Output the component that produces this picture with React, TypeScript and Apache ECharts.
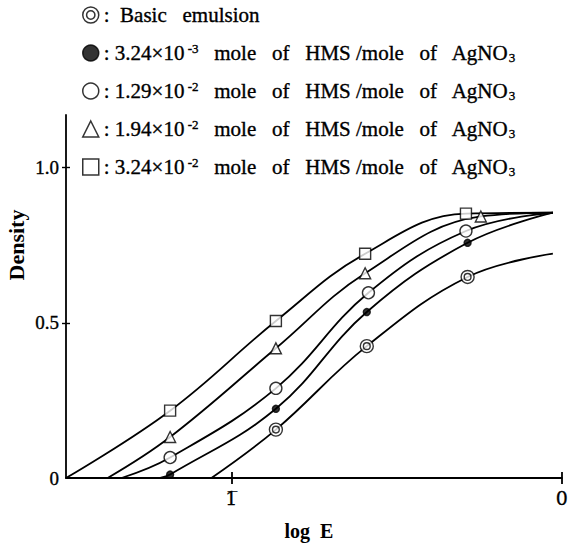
import { useEffect, useRef } from 'react';
import * as echarts from 'echarts';

// Axis ranges and ticks (log E on x, Density on y)
const X_MIN = -1.5;
const X_MAX = 0;
const Y_MIN = 0;
const Y_MAX = 1.17;
const X_TICKS = [-1, 0];
const X_TICK_LABELS = ['1\u0305', '0'];
const Y_TICKS = [0, 0.5, 1.0];
const Y_TICK_LABELS = ['0', '0.5', '1.0'];

// Series: basic emulsion plus four HMS additions (mole of HMS / mole of AgNO3)
const SERIES_NAMES = ['Basic emulsion', '3.24e-3', '1.29e-2', '1.94e-2', '3.24e-2'];
const MANTISSA = ['', '3.24', '1.29', '1.94', '3.24'];
const EXPONENT = ['', '-3', '-2', '-2', '-2'];

// Measured points (log E, density)
const basicLogE = [-0.865, -0.59, -0.285];
const basicDensity = [0.156, 0.425, 0.648];
const hmsALogE = [-1.185, -0.865, -0.59, -0.285];
const hmsADensity = [0.011, 0.223, 0.535, 0.758];
const hmsBLogE = [-1.185, -0.865, -0.585, -0.29];
const hmsBDensity = [0.066, 0.289, 0.597, 0.796];
const hmsCLogE = [-1.185, -0.865, -0.595, -0.245];
const hmsCDensity = [0.132, 0.418, 0.66, 0.843];
const hmsDLogE = [-1.185, -0.865, -0.595, -0.29];
const hmsDDensity = [0.217, 0.506, 0.723, 0.852];

// Where each characteristic curve leaves the axis and where it ends
const CURVE_START_LOGE = [-1.06, -1.215, -1.332, -1.374, -1.5];
const CURVE_END_LOGE = -0.027;
const CURVE_END_DENSITY = [0.723, 0.855, 0.855, 0.855, 0.855];

const LOGE = [basicLogE, hmsALogE, hmsBLogE, hmsCLogE, hmsDLogE];
const DENSITY = [basicDensity, hmsADensity, hmsBDensity, hmsCDensity, hmsDDensity];

const DOUBLE_CIRCLE =
  'path://M10 0A10 10 0 1 1 -10 0A10 10 0 1 1 10 0ZM5.2 0A5.2 5.2 0 1 1 -5.2 0A5.2 5.2 0 1 1 5.2 0Z';
const SYMBOLS = [DOUBLE_CIRCLE, 'circle', 'circle', 'triangle', 'rect'];
const SYMBOL_SIZES = [13, 7, 12, 11, 11];
const FILLS = ['#fff', '#000', '#fff', '#fff', '#fff'];

const FONT = "'Liberation Serif', 'DejaVu Serif', serif";
const INK = { textBorderColor: '#000', textBorderWidth: 0.35 };

export default function App() {
  const ref = useRef<HTMLDivElement>(null);

  useEffect(() => {
    if (!ref.current) return;
    const chart = echarts.init(ref.current, undefined, { renderer: 'svg' });

    const curveSeries = SERIES_NAMES.map((name, i) => ({
      name: name + ' curve',
      type: 'line',
      smooth: 0.4,
      showSymbol: false,
      symbol: 'none',
      silent: true,
      z: 2,
      lineStyle: { color: '#000', width: 1.8 },
      data: [
        [CURVE_START_LOGE[i], 0],
        ...LOGE[i].map((x, j) => [x, DENSITY[i][j]]),
        [CURVE_END_LOGE, CURVE_END_DENSITY[i]],
      ],
    }));

    const markerSeries = SERIES_NAMES.map((name, i) => ({
      name,
      type: 'scatter',
      symbol: SYMBOLS[i],
      symbolSize: SYMBOL_SIZES[i],
      z: 5,
      itemStyle: { color: FILLS[i], borderColor: '#000', borderWidth: 1.4 },
      data: LOGE[i].map((x, j) => [x, DENSITY[i][j]]),
    }));

    const legendText = (name: string) => {
      const i = SERIES_NAMES.indexOf(name);
      if (i === 0) return ':  Basic   emulsion';
      return `: ${MANTISSA[i]}×10{sup| ${EXPONENT[i]}}   mole   of   HMS /mole   of   AgNO{sub|3}`;
    };

    chart.setOption({
      animation: false,
      backgroundColor: '#fff',
      textStyle: { fontFamily: FONT, color: '#000' },
      grid: { left: 66, right: 4, top: 115, bottom: 59, containLabel: false },
      legend: {
        orient: 'vertical',
        left: 77,
        top: -2,
        itemGap: 14,
        itemWidth: 16,
        itemHeight: 16,
        selectedMode: false,
        data: SERIES_NAMES.map((name, i) => ({
          name,
          icon: SYMBOLS[i],
          itemStyle: { color: FILLS[i], borderColor: '#000', borderWidth: 1.5 },
        })),
        formatter: legendText,
        textStyle: {
          fontFamily: FONT,
          fontSize: 21,
          color: '#000',
          lineHeight: 24,
          ...INK,
          rich: {
            sup: { fontFamily: FONT, fontSize: 13, padding: [0, 0, 10, 0], ...INK },
            sub: { fontFamily: FONT, fontSize: 13, padding: [8, 0, 0, 0], ...INK },
          },
        },
      },
      xAxis: [
        {
          type: 'value',
          min: X_MIN,
          max: X_MAX,
          interval: 0.5,
          axisLine: { onZero: false, lineStyle: { color: '#000', width: 1.8 } },
          axisTick: {
            show: true,
            length: 6,
            customValues: X_TICKS,
            lineStyle: { color: '#000', width: 1.8 },
          },
          axisLabel: {
            customValues: X_TICKS,
            formatter: (v: number) => {
              const k = X_TICKS.findIndex((t) => Math.abs(t - v) < 1e-9);
              return k >= 0 ? X_TICK_LABELS[k] : '';
            },
            fontFamily: "'DejaVu Serif', serif",
            fontSize: 19,
            color: '#000',
            margin: 10,
            textBorderColor: '#000',
            textBorderWidth: 0.3,
          },
          splitLine: { show: false },
          name: 'log  E',
          nameLocation: 'middle',
          nameGap: 43,
          nameTextStyle: {
            fontFamily: FONT,
            fontSize: 20,
            fontWeight: 'bold',
            color: '#000',
            padding: [0, 10, 0, 0],
          },
        },
        {
          type: 'value',
          min: X_MIN,
          max: X_MAX,
          position: 'bottom',
          axisLine: { show: false, onZero: false },
          axisTick: {
            show: true,
            inside: true,
            length: 6,
            customValues: X_TICKS,
            lineStyle: { color: '#000', width: 1.8 },
          },
          axisLabel: { show: false },
          splitLine: { show: false },
        },
      ],
      yAxis: [
        {
          type: 'value',
          min: Y_MIN,
          max: Y_MAX,
          interval: 0.5,
          axisLine: { onZero: false, lineStyle: { color: '#000', width: 1.8 } },
          axisTick: {
            show: true,
            length: 4,
            customValues: Y_TICKS.slice(1),
            lineStyle: { color: '#000', width: 1.4 },
          },
          axisLabel: {
            customValues: Y_TICKS,
            formatter: (v: number) => {
              const k = Y_TICKS.findIndex((t) => Math.abs(t - v) < 1e-9);
              return k >= 0 ? Y_TICK_LABELS[k] : '';
            },
            fontFamily: FONT,
            fontSize: 19,
            color: '#000',
            margin: 7,
            ...INK,
          },
          splitLine: { show: false },
        },
        {
          type: 'value',
          min: Y_MIN,
          max: Y_MAX,
          position: 'left',
          axisLine: { show: false, onZero: false },
          axisTick: {
            show: true,
            inside: true,
            length: 4,
            customValues: Y_TICKS.slice(1),
            lineStyle: { color: '#000', width: 1.4 },
          },
          axisLabel: { show: false },
          splitLine: { show: false },
        },
      ],
      graphic: [
        {
          type: 'text',
          x: 16,
          y: 245,
          rotation: Math.PI / 2,
          style: {
            text: 'Density',
            align: 'center',
            verticalAlign: 'middle',
            font: `bold 22px ${FONT}`,
            fill: '#000',
          },
        },
      ],
      series: [...curveSeries, ...markerSeries],
    });

    return () => chart.dispose();
  }, []);

  return (
    <div
      ref={ref}
      style={{ position: 'fixed', left: 0, top: 0, width: 571, height: 546, background: '#fff' }}
    />
  );
}
